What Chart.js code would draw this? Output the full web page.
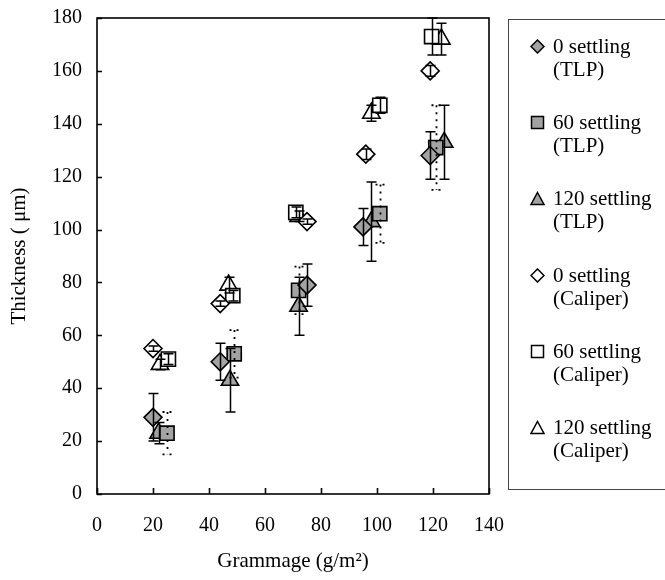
<!DOCTYPE html>
<html>
<head>
<meta charset="utf-8">
<script src="https://cdn.jsdelivr.net/npm/chart.js@4.4.0/dist/chart.umd.min.js"></script>
<style>
  body { margin: 0; background: #fff; }
  #wrap { position: relative; width: 665px; height: 580px; font-family: "Liberation Serif", "DejaVu Serif", serif; }
  #legendBox {
    position: absolute; left: 508px; top: 19px; width: 170px; height: 471px;
    border: 1px solid #444; box-sizing: border-box;
  }
  .item { position: absolute; left: 21px; font-size: 21px; line-height: 23px; color: #000; white-space: nowrap; }
  .item svg { position: absolute; left: 0; top: 4px; }
  .item span { display: block; padding-left: 23px; }
</style>
</head>
<body>
<div id="wrap">
  <canvas id="chart" width="665" height="580"></canvas>
  <div id="legendBox"></div>
</div>
<script>
// Data
const tlp0X = [20, 44, 75, 95, 119];
const tlp0Y = [29, 50, 79, 101, 128];
const tlp0Err = [9, 7, 8, 7, 9];

const tlp60X = [25, 49, 72, 101, 121];
const tlp60Y = [23, 53, 77, 106, 131];
const tlp60Err = [8, 9, 9, 11, 16];

const tlp120X = [22, 47.5, 72, 98, 124];
const tlp120Y = [23, 43, 71, 103, 133];
const tlp120Err = [4, 12, 11, 15, 14];

const cal0X = [20, 44, 75, 96, 119];
const cal0Y = [55, 72, 103, 128.5, 160];
const cal0Err = [1, 1, 1, 2, 2];

const cal60X = [25.5, 48.5, 71, 101, 119.5];
const cal60Y = [51, 75, 106.5, 147, 173];
const cal60Err = [2, 2, 2, 3, 7];

const cal120X = [22.5, 47, 72, 98, 123];
const cal120Y = [49, 79, 105, 144, 172];
const cal120Err = [2, 3, 2, 3, 6];

const seriesNames = [
  ['0 settling', '(TLP)'], ['60 settling', '(TLP)'], ['120 settling', '(TLP)'],
  ['0 settling', '(Caliper)'], ['60 settling', '(Caliper)'], ['120 settling', '(Caliper)']
];

const GREY = '#a3a3a3';

function pts(xs, ys) {
  return xs.map((x, i) => ({ x, y: ys[i] }));
}

function makeSet(name, xs, ys, errs, style, fill, radius, dashed) {
  return {
    label: name,
    data: pts(xs, ys),
    errors: errs,
    dashed: dashed,
    pointStyle: style,
    pointRadius: radius,
    pointBackgroundColor: fill,
    pointBorderColor: '#000',
    pointBorderWidth: 1.6,
    showLine: false
  };
}

const datasets = [
  makeSet('0 settling (TLP)', tlp0X, tlp0Y, tlp0Err, 'rectRot', GREY, 9, false),
  makeSet('60 settling (TLP)', tlp60X, tlp60Y, tlp60Err, 'rect', GREY, 10, true),
  makeSet('120 settling (TLP)', tlp120X, tlp120Y, tlp120Err, 'triangle', GREY, 10, false),
  makeSet('0 settling (Caliper)', cal0X, cal0Y, cal0Err, 'rectRot', '#fff', 9, false),
  makeSet('60 settling (Caliper)', cal60X, cal60Y, cal60Err, 'rect', '#fff', 10, false),
  makeSet('120 settling (Caliper)', cal120X, cal120Y, cal120Err, 'triangle', '#fff', 10, false)
];

// error bars + frame + inward ticks
const errorBars = {
  id: 'errorBars',
  afterDatasetsDraw(chart) {
    const ctx = chart.ctx;
    const yScale = chart.scales.y;
    ctx.save();
    chart.data.datasets.forEach((ds, di) => {
      const meta = chart.getDatasetMeta(di);
      ctx.strokeStyle = '#000';
      ctx.lineWidth = ds.dashed ? 1.8 : 1.5;
      ctx.setLineDash(ds.dashed ? [2, 5] : []);
      meta.data.forEach((p, i) => {
        const v = ds.data[i].y;
        const e = ds.errors[i];
        const top = yScale.getPixelForValue(v + e);
        const bot = yScale.getPixelForValue(v - e);
        const x = Math.round(p.x) + 0.5;
        ctx.beginPath();
        ctx.moveTo(x, top); ctx.lineTo(x, bot);
        ctx.moveTo(x - 5, top); ctx.lineTo(x + 5, top);
        ctx.moveTo(x - 5, bot); ctx.lineTo(x + 5, bot);
        ctx.stroke();
      });
    });
    ctx.setLineDash([]);
    const a = chart.chartArea;
    ctx.lineWidth = 1.6;
    ctx.strokeRect(a.left, a.top, a.right - a.left, a.bottom - a.top);
    ctx.beginPath();
    chart.scales.x.ticks.forEach(t => {
      const px = Math.round(chart.scales.x.getPixelForValue(t.value)) + 0.5;
      ctx.moveTo(px, a.bottom); ctx.lineTo(px, a.bottom - 6);
    });
    yScale.ticks.forEach(t => {
      const py = Math.round(yScale.getPixelForValue(t.value)) + 0.5;
      ctx.moveTo(a.left, py); ctx.lineTo(a.left + 5, py);
    });
    ctx.stroke();
    ctx.restore();
  }
};

const serif = "'Liberation Serif', 'DejaVu Serif', serif";

new Chart(document.getElementById('chart'), {
  type: 'scatter',
  data: { datasets },
  options: {
    responsive: false,
    animation: false,
    layout: { padding: { left: 5, right: 176, top: 18, bottom: 2 } },
    plugins: {
      legend: { display: false },
      tooltip: { enabled: false }
    },
    scales: {
      x: {
        type: 'linear', min: 0, max: 140,
        afterFit: s => { s.height = 84; s.paddingLeft = 0; s.paddingRight = 0; },
        ticks: { stepSize: 20, color: '#000', padding: 20, font: { family: serif, size: 20 } },
        grid: { display: false, drawTicks: false },
        border: { display: false },
        title: { display: true, text: 'Grammage (g/m²)', color: '#000', font: { family: serif, size: 21 }, padding: { top: 4, bottom: 4 } }
      },
      y: {
        type: 'linear', min: 0, max: 180,
        afterFit: s => { s.width = 92; s.paddingTop = 0; s.paddingBottom = 0; },
        ticks: { stepSize: 20, color: '#000', padding: 15, font: { family: serif, size: 20 } },
        grid: { display: false, drawTicks: false },
        border: { display: false },
        title: { display: true, text: 'Thickness ( μm)', color: '#000', font: { family: serif, size: 21 }, padding: { top: 2, bottom: 4 } }
      }
    }
  },
  plugins: [errorBars]
});

// HTML legend
function markerSvg(style, fill) {
  let shape = '';
  if (style === 'rectRot') shape = '<polygon points="7.5,1 14,7.5 7.5,14 1,7.5" />';
  else if (style === 'rect') shape = '<rect x="1.5" y="1.5" width="12" height="12" />';
  else shape = '<polygon points="7.5,1.5 14,13.5 1,13.5" />';
  return '<svg width="15" height="15"><g fill="' + fill + '" stroke="#000" stroke-width="1.5">' + shape + '</g></svg>';
}

const box = document.getElementById('legendBox');
datasets.forEach((ds, i) => {
  const div = document.createElement('div');
  div.className = 'item';
  div.style.top = (15 + i * 76.2) + 'px';
  div.innerHTML = markerSvg(ds.pointStyle, ds.pointBackgroundColor) +
    '<span>' + seriesNames[i][0] + '</span><span>' + seriesNames[i][1] + '</span>';
  box.appendChild(div);
});
</script>
</body>
</html>
